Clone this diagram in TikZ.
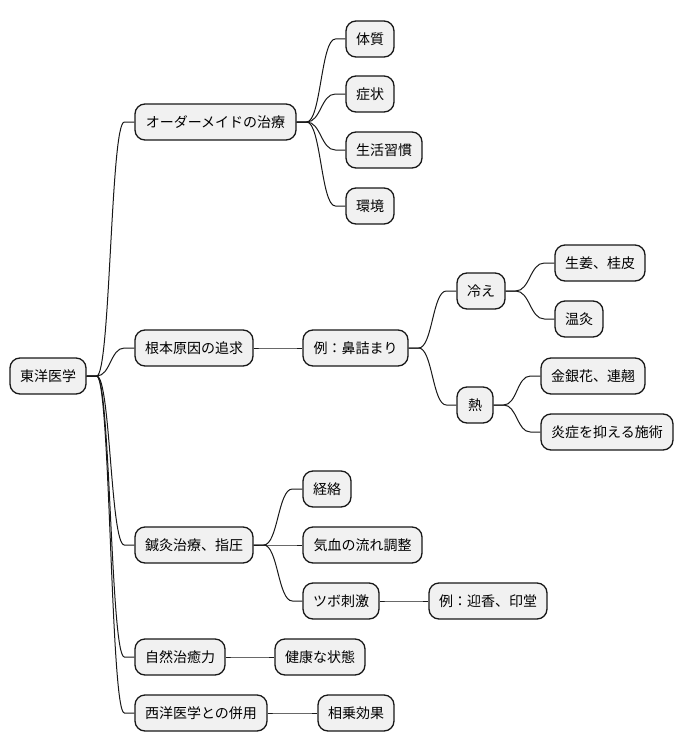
\documentclass[tikz,border=0pt]{standalone}
\usepackage{fontspec}
\newfontfamily\cjk{Noto Sans CJK JP}
\usetikzlibrary{calc}
\definecolor{boxfill}{HTML}{F1F1F1}
\definecolor{edge}{HTML}{181818}
\tikzset{
  mm/.style={draw=edge, fill=boxfill, rounded corners=10pt, line width=1.3pt,
    minimum height=36pt, inner sep=0pt, font=\cjk\fontsize{14}{16}\selectfont, anchor=center},
  link/.style={draw=edge, line width=1pt}
}
\newcommand\mmconn[2]{%
  \path (#1.east) ++(10,0) coordinate (cA) (#2.west) ++(-10,0) coordinate (cB);
  \path ($(cA)!0.5!(cB)$) coordinate (cM);
  \draw[link] (#1.east) -- (cA) .. controls (cM |- cA) and (cM |- cB) .. (cB) -- (#2.west);}
\begin{document}
\begin{tikzpicture}[x=1pt,y=-1pt]
\useasboundingbox (0,0) rectangle (684,752);
% root
\node[mm, minimum width=76pt] (root) at (48,376) {東洋医学};
% level 1
\node[mm, minimum width=161pt] (o1) at (215.5,122) {オーダーメイドの治療};
\node[mm, minimum width=118pt] (o2) at (194,348) {根本原因の追求};
\node[mm, minimum width=118pt] (o3) at (194,545) {鍼灸治療、指圧};
\node[mm, minimum width=90pt] (o4) at (180,657) {自然治癒力};
\node[mm, minimum width=132pt] (o5) at (201,713) {西洋医学との併用};
% o1 children
\node[mm, minimum width=48pt] (a1) at (370,39) {体質};
\node[mm, minimum width=48pt] (a2) at (370,94) {症状};
\node[mm, minimum width=76pt] (a3) at (384,150) {生活習慣};
\node[mm, minimum width=48pt] (a4) at (370,206) {環境};
% o2 children
\node[mm, minimum width=105pt] (b1) at (355.5,348) {例：鼻詰まり};
\node[mm, minimum width=48pt] (c1) at (481,291) {冷え};
\node[mm, minimum width=36pt] (c2) at (475,405) {熱};
\node[mm, minimum width=90pt] (d1) at (600,263) {生姜、桂皮};
\node[mm, minimum width=48pt] (d2) at (579,319) {温灸};
\node[mm, minimum width=104pt] (d3) at (593,376) {金銀花、連翹};
\node[mm, minimum width=132pt] (d4) at (607,432) {炎症を抑える施術};
% o3 children
\node[mm, minimum width=48pt] (e1) at (327,489) {経絡};
\node[mm, minimum width=119pt] (e2) at (362.5,545) {気血の流れ調整};
\node[mm, minimum width=76pt] (e3) at (341,601) {ツボ刺激};
\node[mm, minimum width=118pt] (e4) at (488,601) {例：迎香、印堂};
% o4, o5 children
\node[mm, minimum width=90pt] (f1) at (320,657) {健康な状態};
\node[mm, minimum width=76pt] (g1) at (356,713) {相乗効果};
% connectors
\mmconn{root}{o1}
\mmconn{root}{o2}
\mmconn{root}{o3}
\mmconn{root}{o4}
\mmconn{root}{o5}
\mmconn{o1}{a1}
\mmconn{o1}{a2}
\mmconn{o1}{a3}
\mmconn{o1}{a4}
\mmconn{o2}{b1}
\mmconn{b1}{c1}
\mmconn{b1}{c2}
\mmconn{c1}{d1}
\mmconn{c1}{d2}
\mmconn{c2}{d3}
\mmconn{c2}{d4}
\mmconn{o3}{e1}
\mmconn{o3}{e2}
\mmconn{o3}{e3}
\mmconn{e3}{e4}
\mmconn{o4}{f1}
\mmconn{o5}{g1}
\end{tikzpicture}
\end{document}
